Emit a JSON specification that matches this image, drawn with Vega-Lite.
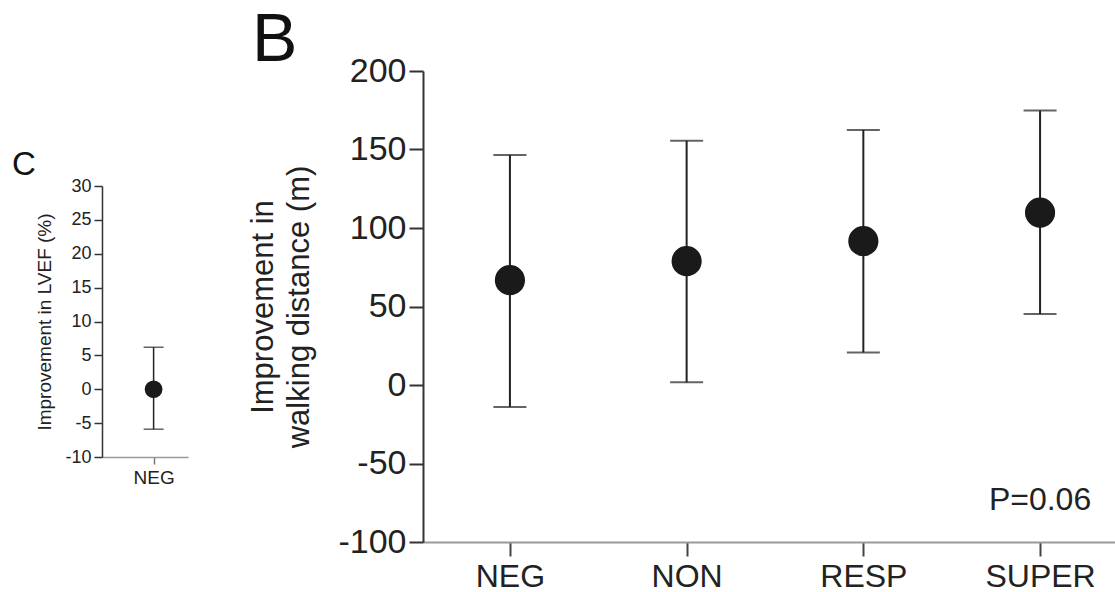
{
  "$schema": "https://vega.github.io/schema/vega-lite/v6.json",
  "padding": {"left": 12, "top": 7, "right": 0, "bottom": 0},
  "background": "white",
  "config": {"font": "Liberation Sans", "view": {"stroke": null}},
  "datasets": {
    "lvef": [{"group": "NEG", "mean": 0, "lo": -5.9, "hi": 6.2}],
    "walk": [
      {"group": "NEG", "mean": 66.8, "lo": -14, "hi": 146.5},
      {"group": "NON", "mean": 78.9, "lo": 1.7, "hi": 155.6},
      {"group": "RESP", "mean": 91.6, "lo": 20.7, "hi": 162.5},
      {"group": "SUPER", "mean": 109.8, "lo": 45.2, "hi": 174.8}
    ],
    "pval": [{"group": "SUPER", "y": -73, "label": "P=0.06"}]
  },
  "bounds": "flush",
  "spacing": 321,
  "hconcat": [
    {
      "bounds": "flush",
      "spacing": 0,
      "vconcat": [
        {
          "width": 86,
          "height": 115,
          "data": {"values": [{}]},
          "mark": {"type": "point", "opacity": 0},
          "encoding": {}
        },
        {
          "width": 86,
          "height": 271,
          "data": {"name": "lvef"},
          "title": {"text": "C", "anchor": "start", "frame": "group", "dx": -90, "fontSize": 33, "fontWeight": "normal", "baseline": "alphabetic", "offset": -31, "color": "#111"},
          "encoding": {
            "x": {
              "field": "group", "type": "nominal",
              "scale": {"type": "point", "padding": 0.5, "align": 0.6},
              "axis": {"title": null, "labelAngle": 0, "labelFontSize": 19, "labelColor": "#222", "tickSize": 7, "tickColor": "#777", "tickWidth": 1.5, "domainColor": "#999", "domainWidth": 1.5, "labelPadding": 4}
            }
          },
          "layer": [
            {
              "mark": {"type": "rule", "color": "#222", "strokeWidth": 1.5},
              "encoding": {
                "y": {
                  "field": "lo", "type": "quantitative", "title": "Improvement in LVEF (%)",
                  "scale": {"domain": [-10, 30], "nice": false},
                  "axis": {"values": [-10, -5, 0, 5, 10, 15, 20, 25, 30], "labelOverlap": false, "labelExpr": "'' + datum.value", "grid": false, "labelFontSize": 18, "labelColor": "#222", "tickSize": 8, "tickColor": "#333", "tickWidth": 1.5, "domainColor": "#333", "domainWidth": 1.5, "labelPadding": 3, "titleFontSize": 19, "titleFontWeight": "normal", "titleColor": "#222", "titlePadding": 10}
                },
                "y2": {"field": "hi"}
              }
            },
            {
              "mark": {"type": "tick", "color": "#222", "thickness": 1.5, "size": 20},
              "encoding": {"y": {"field": "lo", "type": "quantitative", "title": "Improvement in LVEF (%)", "scale": {"domain": [-10, 30], "nice": false},
                  "axis": {"values": [-10, -5, 0, 5, 10, 15, 20, 25, 30], "labelOverlap": false, "labelExpr": "'' + datum.value", "grid": false, "labelFontSize": 18, "labelColor": "#222", "tickSize": 8, "tickColor": "#333", "tickWidth": 1.5, "domainColor": "#333", "domainWidth": 1.5, "labelPadding": 3, "titleFontSize": 19, "titleFontWeight": "normal", "titleColor": "#222", "titlePadding": 10}}}
            },
            {
              "mark": {"type": "tick", "color": "#222", "thickness": 1.5, "size": 20},
              "encoding": {"y": {"field": "hi", "type": "quantitative", "title": "Improvement in LVEF (%)", "scale": {"domain": [-10, 30], "nice": false},
                  "axis": {"values": [-10, -5, 0, 5, 10, 15, 20, 25, 30], "labelOverlap": false, "labelExpr": "'' + datum.value", "grid": false, "labelFontSize": 18, "labelColor": "#222", "tickSize": 8, "tickColor": "#333", "tickWidth": 1.5, "domainColor": "#333", "domainWidth": 1.5, "labelPadding": 3, "titleFontSize": 19, "titleFontWeight": "normal", "titleColor": "#222", "titlePadding": 10}}}
            },
            {
              "mark": {"type": "circle", "size": 314, "opacity": 1, "color": "#1a1a1a"},
              "encoding": {"y": {"field": "mean", "type": "quantitative", "title": "Improvement in LVEF (%)", "scale": {"domain": [-10, 30], "nice": false},
                  "axis": {"values": [-10, -5, 0, 5, 10, 15, 20, 25, 30], "labelOverlap": false, "labelExpr": "'' + datum.value", "grid": false, "labelFontSize": 18, "labelColor": "#222", "tickSize": 8, "tickColor": "#333", "tickWidth": 1.5, "domainColor": "#333", "domainWidth": 1.5, "labelPadding": 3, "titleFontSize": 19, "titleFontWeight": "normal", "titleColor": "#222", "titlePadding": 10}}}
            }
          ]
        }
      ]
    },
    {
      "width": 692,
      "height": 471,
      "title": {"text": "B", "anchor": "start", "frame": "group", "dx": -171, "fontSize": 68, "fontWeight": "normal", "baseline": "alphabetic", "offset": -75, "color": "#111"},
      "encoding": {
        "x": {
          "field": "group", "type": "nominal",
          "scale": {"type": "point", "padding": 0.458, "align": 0.537, "domain": ["NEG", "NON", "RESP", "SUPER"]},
          "axis": {"title": null, "labelAngle": 0, "labelFontSize": 32, "labelColor": "#222", "tickSize": 14, "tickColor": "#444", "tickWidth": 2, "domainColor": "#999", "domainWidth": 2, "labelPadding": 5}
        }
      },
      "layer": [
        {
          "data": {"name": "walk"},
          "mark": {"type": "rule", "color": "#222", "strokeWidth": 2},
          "encoding": {
            "y": {
              "field": "lo", "type": "quantitative", "title": ["Improvement in", "walking distance (m)"],
              "scale": {"domain": [-100, 200], "nice": false},
              "axis": {"values": [-100, -50, 0, 50, 100, 150, 200], "labelOverlap": false, "labelExpr": "'' + datum.value", "grid": false, "labelFontSize": 34, "labelColor": "#222", "tickSize": 14, "tickColor": "#333", "tickWidth": 2, "domainColor": "#333", "domainWidth": 2, "labelPadding": 3, "titleFontSize": 31, "titleFontWeight": "normal", "titleColor": "#222", "titlePadding": 22, "titleLineHeight": 36}
            },
            "y2": {"field": "hi"}
          }
        },
        {
          "data": {"name": "walk"},
          "mark": {"type": "tick", "color": "#222", "thickness": 2, "size": 33},
          "encoding": {"y": {"field": "lo", "type": "quantitative", "title": ["Improvement in", "walking distance (m)"], "scale": {"domain": [-100, 200], "nice": false}}}
        },
        {
          "data": {"name": "walk"},
          "mark": {"type": "tick", "color": "#222", "thickness": 2, "size": 33},
          "encoding": {"y": {"field": "hi", "type": "quantitative", "title": ["Improvement in", "walking distance (m)"], "scale": {"domain": [-100, 200], "nice": false}}}
        },
        {
          "data": {"name": "walk"},
          "mark": {"type": "circle", "size": 910, "opacity": 1, "color": "#1a1a1a"},
          "encoding": {"y": {"field": "mean", "type": "quantitative", "title": ["Improvement in", "walking distance (m)"], "scale": {"domain": [-100, 200], "nice": false}}}
        },
        {
          "data": {"name": "pval"},
          "mark": {"type": "text", "fontSize": 32, "color": "#222", "align": "center", "baseline": "middle"},
          "encoding": {
            "y": {"field": "y", "type": "quantitative", "title": ["Improvement in", "walking distance (m)"], "scale": {"domain": [-100, 200], "nice": false}},
            "text": {"field": "label"}
          }
        }
      ]
    }
  ]
}
